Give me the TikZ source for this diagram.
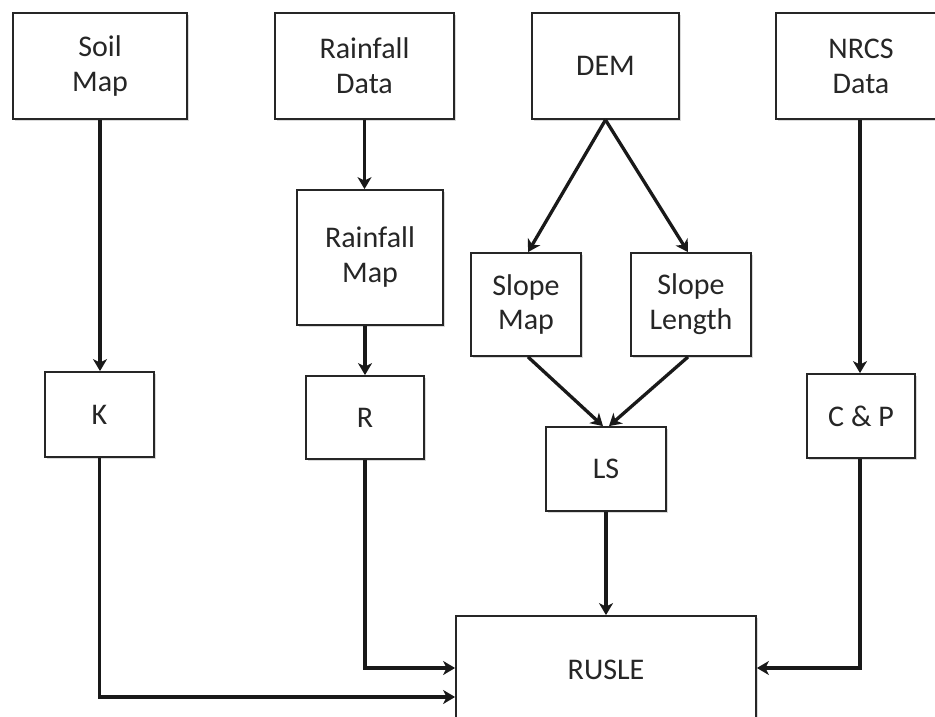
\documentclass[tikz,border=0pt]{standalone}
\usepackage{fontspec}
\setmainfont{Carlito}
\usetikzlibrary{arrows.meta,shadows,calc}
\begin{document}
\begin{tikzpicture}[x=1pt,y=-1pt,
  box/.style={draw=black!85, line width=1.8pt, fill=white, align=center,
    font=\fontsize{30}{35}\selectfont, text=black!85, inner sep=0pt,
    drop shadow={shadow xshift=2pt,shadow yshift=-2pt,opacity=0.15,fill=black}},
  conn/.style={line width=3.3pt, draw=black!90,
    -{Stealth[length=12pt,width=14pt,inset=3.5pt]}},
]
\useasboundingbox (0,0) rectangle (935,717);
\clip (0,0) rectangle (935,717);
\fill[white] (0,0) rectangle (935,717);

% top row
\node[box, minimum width=174pt, minimum height=106pt] (soil)  at (100,66)   {Soil\\Map};
\node[box, minimum width=179pt, minimum height=106pt] (rdata) at (364.5,66) {Rainfall\\Data};
\node[box, minimum width=147pt, minimum height=106pt] (dem)   at (605.5,66) {DEM};
\node[box, minimum width=170pt, minimum height=106pt] (nrcs)  at (861,66)   {NRCS\\Data};

% middle
\node[box, minimum width=146pt, minimum height=135pt] (rmap) at (370,257.5) {Rainfall\\Map};
\node[box, minimum width=110pt, minimum height=103pt] (smap) at (526,304.5) {Slope\\Map};
\node[box, minimum width=120pt, minimum height=103pt] (slen) at (691,304.5) {Slope\\Length};

% factors
\node[box, minimum width=109pt, minimum height=85pt] (K)  at (99.5,414.5) {K};
\node[box, minimum width=118pt, minimum height=83pt] (R)  at (365,417.5)  {R};
\node[box, minimum width=120pt, minimum height=84pt] (LS) at (606,469)    {LS};
\node[box, minimum width=108pt, minimum height=84pt] (CP) at (861,416)    {C \& P};

% result
\node[box, minimum width=300pt, minimum height=108pt] (rusle) at (606,670) {RUSLE};

% connectors
\draw[conn] (soil.south) -- (soil.south |- K.north);
\draw[conn] (rdata.south) -- (rdata.south |- rmap.north);
\draw[conn] (rmap.south -| R.north) -- (R.north);
\draw[conn] (dem.south) -- ([xshift=2pt]smap.north);
\draw[conn] (dem.south) -- ([xshift=-3pt]slen.north);
\draw[conn] ([xshift=2pt]smap.south) -- ([xshift=-3pt]LS.north);
\draw[conn] ([xshift=-3pt]slen.south) -- ([xshift=3pt]LS.north);
\draw[conn] ([xshift=-1pt]nrcs.south) -- ([xshift=-1pt]CP.north);
\draw[conn] (LS.south) -- (rusle.north);
\draw[conn] (K.south) |- ($(rusle.west)+(0,27)$);
\draw[conn] (R.south) |- ($(rusle.west)+(0,-2)$);
\draw[conn] ([xshift=-1pt]CP.south) |- ($(rusle.east)+(0,-2)$);
\end{tikzpicture}
\end{document}
